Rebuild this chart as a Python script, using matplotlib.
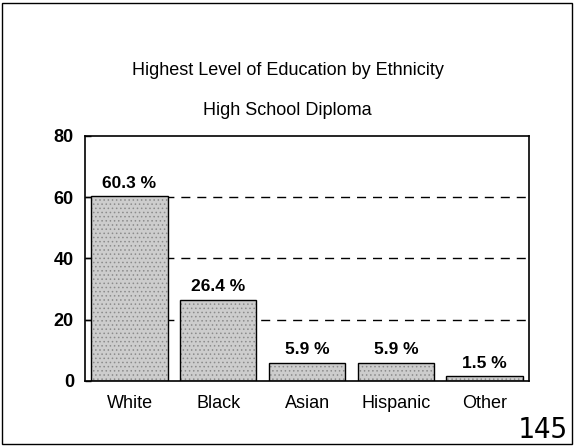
import matplotlib
matplotlib.use("Agg")
import matplotlib.pyplot as plt
from matplotlib.patches import Rectangle

categories = ["White", "Black", "Asian", "Hispanic", "Other"]
percentages = [60.3, 26.4, 5.9, 5.9, 1.5]
y_ticks = [0, 20, 40, 60, 80]
title = "Highest Level of Education by Ethnicity"
subtitle = "High School Diploma"
page_number = "145"

plt.rcParams["font.family"] = ["Liberation Sans", "DejaVu Sans"]
plt.rcParams["hatch.color"] = "#8c8c8c"
plt.rcParams["hatch.linewidth"] = 0.6

fig = plt.figure(figsize=(5.75, 4.48), dpi=100)
fig.patch.set_facecolor("white")

# page frame
fig.add_artist(Rectangle((0.004, 0.008), 0.991, 0.985, transform=fig.transFigure,
                         fill=False, edgecolor="black", linewidth=1.0))

ax = fig.add_axes([0.148, 0.150, 0.772, 0.547])
x = range(len(categories))
ax.set_xlim(-0.5, len(categories) - 0.5)
ax.set_ylim(0, 80)

for yv in y_ticks[1:-1]:
    ax.axhline(yv, color="black", linewidth=1.0, linestyle=(0, (6.5, 5)), zorder=1)

# stippled grey bars
ax.bar(x, percentages, width=0.86, color="#cdcdcd", hatch="....",
       edgecolor="#8c8c8c", linewidth=0, zorder=2)
ax.bar(x, percentages, width=0.86, fill=False, edgecolor="black",
       linewidth=1.0, zorder=3)
for xi, v in zip(x, percentages):
    ax.annotate(f"{v} %", (xi, v), xytext=(0, 4), textcoords="offset points",
                ha="center", va="bottom", fontsize=12.5, fontweight="bold")

ax.set_yticks(y_ticks)
ax.set_yticklabels([str(t) for t in y_ticks], fontsize=13, fontweight="bold")
ax.set_xticks(list(x))
ax.set_xticklabels(categories, fontsize=13)
ax.tick_params(axis="y", direction="in", length=4, width=1, pad=8)
ax.tick_params(axis="x", length=0, pad=10)
for s in ax.spines.values():
    s.set_linewidth(1.2)

fig.text(0.5, 0.843, title, ha="center", va="center", fontsize=13)
fig.text(0.5, 0.753, subtitle, ha="center", va="center", fontsize=13)
fig.text(0.987, 0.040, page_number, ha="right", va="center", fontsize=20,
         family="DejaVu Sans Mono")

fig.savefig("out.png", dpi=100)
